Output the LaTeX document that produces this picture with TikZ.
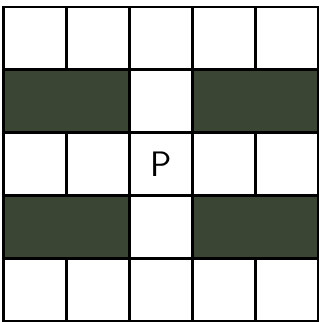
\documentclass[tikz,border=0pt]{standalone}
\definecolor{bargreen}{RGB}{58,69,52}
\begin{document}
\begin{tikzpicture}[x=1cm, y=1cm, line width=1.3pt, line cap=rect,
  every node/.style={font=\sffamily\fontsize{16}{16}\selectfont}]
  \useasboundingbox (-0.056,-0.008) rectangle (5.048,5.111);
  % dark bars in the second and fourth rows
  \foreach \y in {1,3} {
    \fill[bargreen] (0,\y) rectangle (2,\y+1);
    \fill[bargreen] (3,\y) rectangle (5,\y+1);
  }
  \foreach \y in {0,...,5} \draw (0,\y) -- (5,\y);
  \foreach \x in {0,2,3,5} \draw (\x,0) -- (\x,5);
  \foreach \x in {1,4} \foreach \y in {0,2,4} \draw (\x,\y) -- (\x,\y+1);
  \node (p) at (2.5,2.5) {P};
\end{tikzpicture}
\end{document}
